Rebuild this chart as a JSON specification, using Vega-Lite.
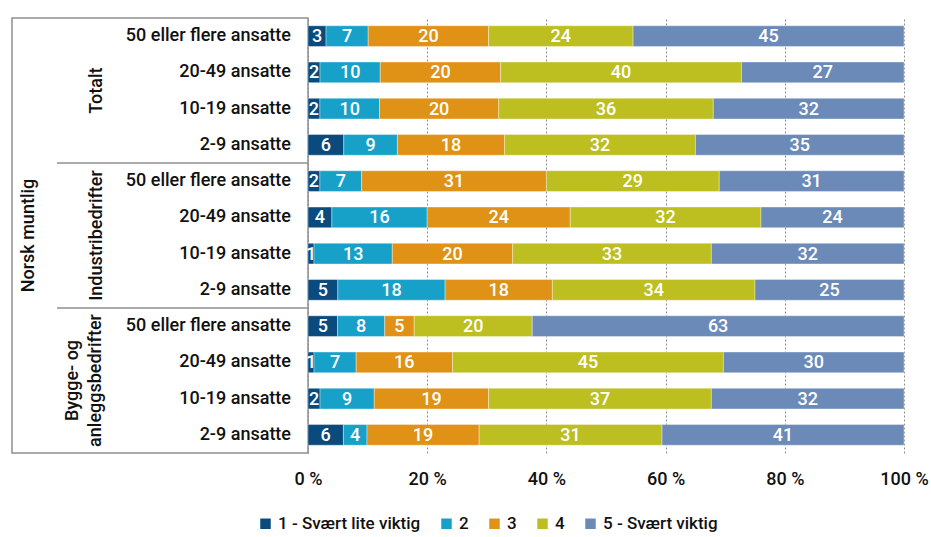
{
  "$schema": "https://vega.github.io/schema/vega-lite/v6.json",
  "padding": {"left": 11, "top": 17, "right": 27, "bottom": 2},
  "background": "white",
  "config": {
    "font": "Roboto",
    "view": {"stroke": null},
    "concat": {"spacing": 0},
    "text": {"font": "Roboto", "fontSize": 18, "fontWeight": 500}
  },
  "datasets": {
    "bars": [
      {"gruppe": "Totalt", "storrelse": "50 eller flere ansatte", "1 - Svært lite viktig": 3, "2": 7, "3": 20, "4": 24, "5 - Svært viktig": 45},
      {"gruppe": "Totalt", "storrelse": "20-49 ansatte", "1 - Svært lite viktig": 2, "2": 10, "3": 20, "4": 40, "5 - Svært viktig": 27},
      {"gruppe": "Totalt", "storrelse": "10-19 ansatte", "1 - Svært lite viktig": 2, "2": 10, "3": 20, "4": 36, "5 - Svært viktig": 32},
      {"gruppe": "Totalt", "storrelse": "2-9 ansatte", "1 - Svært lite viktig": 6, "2": 9, "3": 18, "4": 32, "5 - Svært viktig": 35},
      {"gruppe": "Industribedrifter", "storrelse": "50 eller flere ansatte", "1 - Svært lite viktig": 2, "2": 7, "3": 31, "4": 29, "5 - Svært viktig": 31},
      {"gruppe": "Industribedrifter", "storrelse": "20-49 ansatte", "1 - Svært lite viktig": 4, "2": 16, "3": 24, "4": 32, "5 - Svært viktig": 24},
      {"gruppe": "Industribedrifter", "storrelse": "10-19 ansatte", "1 - Svært lite viktig": 1, "2": 13, "3": 20, "4": 33, "5 - Svært viktig": 32},
      {"gruppe": "Industribedrifter", "storrelse": "2-9 ansatte", "1 - Svært lite viktig": 5, "2": 18, "3": 18, "4": 34, "5 - Svært viktig": 25},
      {"gruppe": "Bygge- og anleggsbedrifter", "storrelse": "50 eller flere ansatte", "1 - Svært lite viktig": 5, "2": 8, "3": 5, "4": 20, "5 - Svært viktig": 63},
      {"gruppe": "Bygge- og anleggsbedrifter", "storrelse": "20-49 ansatte", "1 - Svært lite viktig": 1, "2": 7, "3": 16, "4": 45, "5 - Svært viktig": 30},
      {"gruppe": "Bygge- og anleggsbedrifter", "storrelse": "10-19 ansatte", "1 - Svært lite viktig": 2, "2": 9, "3": 19, "4": 37, "5 - Svært viktig": 32},
      {"gruppe": "Bygge- og anleggsbedrifter", "storrelse": "2-9 ansatte", "1 - Svært lite viktig": 6, "2": 4, "3": 19, "4": 31, "5 - Svært viktig": 41}
    ],
    "grupper1": [
      {"gruppe": "Totalt", "tittel": "Totalt"},
      {"gruppe": "Industribedrifter", "tittel": "Industribedrifter"}
    ],
    "grupper2": [
      {"gruppe": "Bygge- og anleggsbedrifter", "tittel": "Bygge- og\nanleggsbedrifter"}
    ],
    "skiller": [
      {"gruppe": "Industribedrifter"},
      {"gruppe": "Bygge- og anleggsbedrifter"}
    ],
    "ytre": [
      {"tekst": "Norsk muntlig"}
    ]
  },
  "resolve": {"scale": {"y": "shared", "yOffset": "shared"}},
  "spacing": 0,
  "bounds": "flush",
  "hconcat": [
    {
      "width": 296,
      "height": 435,
      "view": {"stroke": "#8f8f8f", "strokeWidth": 1.5},
      "layer": [
        {
          "data": {"name": "ytre"},
          "mark": {"type": "text", "angle": 270, "align": "center", "baseline": "middle", "color": "#111"},
          "encoding": {
            "x": {"datum": 0.057, "type": "quantitative", "scale": {"domain": [0, 1], "nice": false, "zero": false}, "axis": null},
            "text": {"field": "tekst"}
          }
        },
        {
          "data": {"name": "grupper1"},
          "mark": {"type": "text", "angle": 270, "align": "center", "baseline": "bottom", "color": "#111"},
          "encoding": {
            "x": {"datum": 0.318, "type": "quantitative", "scale": {"domain": [0, 1], "nice": false, "zero": false}, "axis": null},
            "y": {"field": "gruppe", "type": "nominal", "sort": ["Totalt", "Industribedrifter", "Bygge- og anleggsbedrifter"], "scale": {"domain": ["Totalt", "Industribedrifter", "Bygge- og anleggsbedrifter"], "paddingInner": 0, "paddingOuter": 0}, "axis": null},
            "text": {"field": "tittel"}
          }
        },
        {
          "data": {"name": "grupper2"},
          "mark": {"type": "text", "angle": 270, "align": "center", "baseline": "bottom", "lineBreak": "\n", "color": "#111", "lineHeight": 23},
          "encoding": {
            "x": {"datum": 0.236, "type": "quantitative", "scale": {"domain": [0, 1], "nice": false, "zero": false}, "axis": null},
            "y": {"field": "gruppe", "type": "nominal", "axis": null},
            "text": {"field": "tittel"}
          }
        },
        {
          "data": {"name": "bars"},
          "mark": {"type": "text", "align": "right", "baseline": "middle", "color": "#111"},
          "encoding": {
            "x": {"datum": 0.9426, "type": "quantitative", "scale": {"domain": [0, 1], "nice": false, "zero": false}, "axis": null},
            "y": {"field": "gruppe", "type": "nominal", "sort": ["Totalt", "Industribedrifter", "Bygge- og anleggsbedrifter"], "axis": null},
            "yOffset": {"field": "storrelse", "type": "nominal", "sort": ["50 eller flere ansatte", "20-49 ansatte", "10-19 ansatte", "2-9 ansatte"], "scale": {"paddingInner": 0.43, "paddingOuter": 0.215}},
            "text": {"field": "storrelse"}
          }
        },
        {
          "data": {"name": "skiller"},
          "mark": {"type": "rule", "color": "#8f8f8f", "strokeWidth": 1.5},
          "encoding": {
            "x": {"datum": 0.152, "type": "quantitative", "scale": {"domain": [0, 1], "nice": false, "zero": false}, "axis": null},
            "x2": {"datum": 1},
            "y": {"field": "gruppe", "type": "nominal", "bandPosition": 0, "axis": null}
          }
        }
      ]
    },
    {
      "width": 596,
      "height": 435,
      "data": {"name": "bars"},
      "transform": [
        {"fold": ["1 - Svært lite viktig", "2", "3", "4", "5 - Svært viktig"], "as": ["svar", "verdi"]}
      ],
      "encoding": {
        "y": {"field": "gruppe", "type": "nominal", "sort": ["Totalt", "Industribedrifter", "Bygge- og anleggsbedrifter"], "axis": null},
        "yOffset": {"field": "storrelse", "type": "nominal", "sort": ["50 eller flere ansatte", "20-49 ansatte", "10-19 ansatte", "2-9 ansatte"]},
        "order": {"field": "svar", "type": "nominal", "sort": "ascending"}
      },
      "layer": [
        {
          "mark": {"type": "bar", "stroke": "white", "strokeWidth": 0.6, "strokeOpacity": 0.6},
          "encoding": {
            "x": {
              "field": "verdi", "type": "quantitative", "stack": "normalize",
              "scale": {"domain": [0, 1], "nice": false},
              "title": null,
              "axis": {
                "values": [0, 0.2, 0.4, 0.6, 0.8, 1],
                "labelExpr": "round(datum.value * 100) + ' %'",
                "labelFlush": false,
                "domain": false, "ticks": false,
                "grid": true, "gridDash": [2, 2], "gridColor": "#8c8c8c", "gridWidth": 1,
                "labelFontSize": 18, "labelColor": "#111", "labelPadding": 17,
                "labelFont": "Roboto", "labelFontWeight": 500
              }
            },
            "color": {
              "field": "svar", "type": "nominal",
              "scale": {
                "domain": ["1 - Svært lite viktig", "2", "3", "4", "5 - Svært viktig"],
                "range": ["#0a4a7c", "#17a0c8", "#e09216", "#bdbe1f", "#6b8ab8"]
              },
              "legend": {
                "orient": "none", "legendX": 245, "legendY": 497,
                "direction": "horizontal", "title": null,
                "symbolType": "square", "symbolSize": 110, "symbolStrokeWidth": 0,
                "labelFontSize": 17, "labelColor": "#111", "labelFont": "Roboto", "labelFontWeight": 500,
                "columnPadding": 17, "labelOffset": 4
              }
            }
          }
        },
        {
          "mark": {"type": "text", "color": "white", "align": "center", "baseline": "middle", "dy": 1},
          "encoding": {
            "x": {"field": "verdi", "type": "quantitative", "stack": "normalize", "bandPosition": 0.5},
            "detail": {"field": "svar"},
            "text": {"field": "verdi", "type": "quantitative"}
          }
        }
      ]
    }
  ]
}
